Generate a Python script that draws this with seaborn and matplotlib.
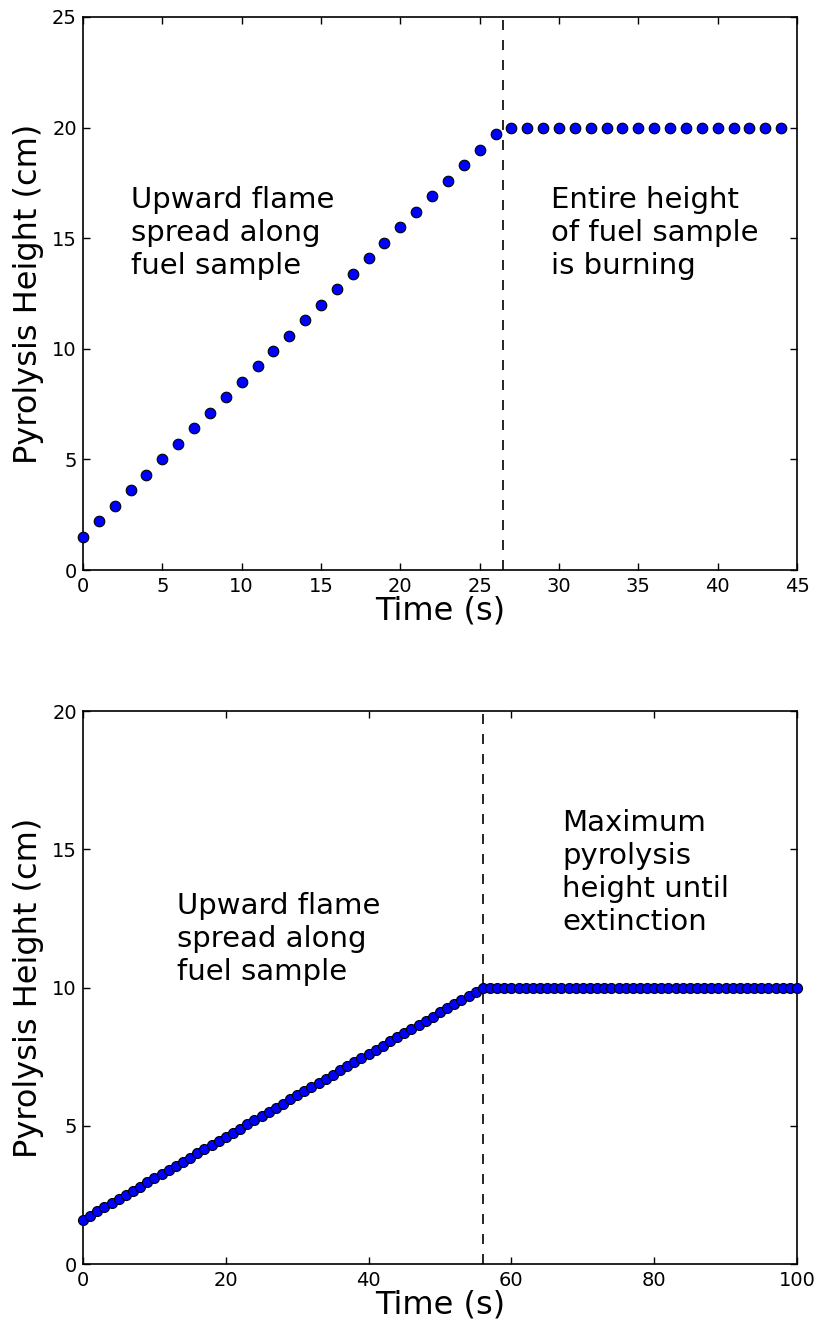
import matplotlib
matplotlib.use("Agg")
import matplotlib.pyplot as plt
import seaborn as sns
import pandas as pd

# ---- data: top panel ----
time_top = list(range(0, 45))
height_top = [1.5, 2.2, 2.9, 3.6, 4.3, 5.0, 5.7, 6.4, 7.1, 7.8,
              8.5, 9.2, 9.9, 10.6, 11.3, 12.0, 12.7, 13.4, 14.1, 14.8,
              15.5, 16.2, 16.9, 17.6, 18.3, 19.0, 19.7, 20.0, 20.0, 20.0,
              20.0, 20.0, 20.0, 20.0, 20.0, 20.0, 20.0, 20.0, 20.0, 20.0,
              20.0, 20.0, 20.0, 20.0, 20.0]
vline_top = 26.5

# ---- data: bottom panel ----
time_bot = list(range(0, 101))
height_bot = [1.60, 1.75, 1.90, 2.05, 2.20, 2.35, 2.50, 2.65, 2.80, 2.95,
              3.10, 3.25, 3.40, 3.55, 3.70, 3.85, 4.00, 4.15, 4.30, 4.45,
              4.60, 4.75, 4.90, 5.05, 5.20, 5.35, 5.50, 5.65, 5.80, 5.95,
              6.10, 6.25, 6.40, 6.55, 6.70, 6.85, 7.00, 7.15, 7.30, 7.45,
              7.60, 7.75, 7.90, 8.05, 8.20, 8.35, 8.50, 8.65, 8.80, 8.95,
              9.10, 9.25, 9.40, 9.55, 9.70, 9.85, 10.0, 10.0, 10.0, 10.0,
              10.0, 10.0, 10.0, 10.0, 10.0, 10.0, 10.0, 10.0, 10.0, 10.0,
              10.0, 10.0, 10.0, 10.0, 10.0, 10.0, 10.0, 10.0, 10.0, 10.0,
              10.0, 10.0, 10.0, 10.0, 10.0, 10.0, 10.0, 10.0, 10.0, 10.0,
              10.0, 10.0, 10.0, 10.0, 10.0, 10.0, 10.0, 10.0, 10.0, 10.0,
              10.0]
vline_bot = 56

xticks_top = [0, 5, 10, 15, 20, 25, 30, 35, 40, 45]
yticks_top = [0, 5, 10, 15, 20, 25]
xticks_bot = [0, 20, 40, 60, 80, 100]
yticks_bot = [0, 5, 10, 15, 20]

text_top_left = "Upward flame\nspread along\nfuel sample"
text_top_right = "Entire height\nof fuel sample\nis burning"
text_bot_left = "Upward flame\nspread along\nfuel sample"
text_bot_right = "Maximum\npyrolysis\nheight until\nextinction"

plt.rcParams['font.family'] = ['DejaVu Sans']
plt.rcParams['xtick.direction'] = 'in'
plt.rcParams['ytick.direction'] = 'in'
plt.rcParams['xtick.top'] = True
plt.rcParams['ytick.right'] = True
plt.rcParams['xtick.major.size'] = 5
plt.rcParams['ytick.major.size'] = 5
plt.rcParams['xtick.major.pad'] = 5
plt.rcParams['ytick.major.pad'] = 4.5

fig = plt.figure(figsize=(8.25, 13.27), dpi=100)
L, R = 83 / 825, 797 / 825
ax1 = fig.add_axes([L, 1 - 570 / 1327, R - L, (570 - 17) / 1327])
ax2 = fig.add_axes([L, 1 - 1264 / 1327, R - L, (1264 - 711) / 1327])

df_top = pd.DataFrame({"t": time_top, "h": height_top})
df_bot = pd.DataFrame({"t": time_bot, "h": height_bot})

for ax, df, vx, xt, yt, xmax, ymax, ms in [
        (ax1, df_top, vline_top, xticks_top, yticks_top, 45, 25, 58),
        (ax2, df_bot, vline_bot, xticks_bot, yticks_bot, 100, 20, 52)]:
    ax.axvline(vx, color='black', linestyle=(0, (6, 6)), linewidth=1.2, zorder=1)
    sns.scatterplot(data=df, x="t", y="h", ax=ax, color='#0000ff', s=ms,
                    edgecolor='black', linewidth=0.8, zorder=3, clip_on=False)
    ax.set_xlim(0, xmax)
    ax.set_ylim(0, ymax)
    ax.set_xticks(xt)
    ax.set_yticks(yt)
    ax.tick_params(labelsize=14, width=1)
    ax.set_xlabel("Time (s)", fontsize=23, labelpad=0)
    ax.set_ylabel("Pyrolysis Height (cm)", fontsize=23, labelpad=6)
    for s in ax.spines.values():
        s.set_linewidth(1.2)
    ax.set_facecolor('white')

ax1.text(3.0, 17.35, text_top_left, fontsize=21, va='top', ha='left', linespacing=1.22)
ax1.text(29.5, 17.35, text_top_right, fontsize=21, va='top', ha='left', linespacing=1.22)
ax2.text(13.2, 13.45, text_bot_left, fontsize=21, va='top', ha='left', linespacing=1.22)
ax2.text(67.1, 16.45, text_bot_right, fontsize=21, va='top', ha='left', linespacing=1.22)

fig.savefig("out.png", dpi=100, facecolor='white')
